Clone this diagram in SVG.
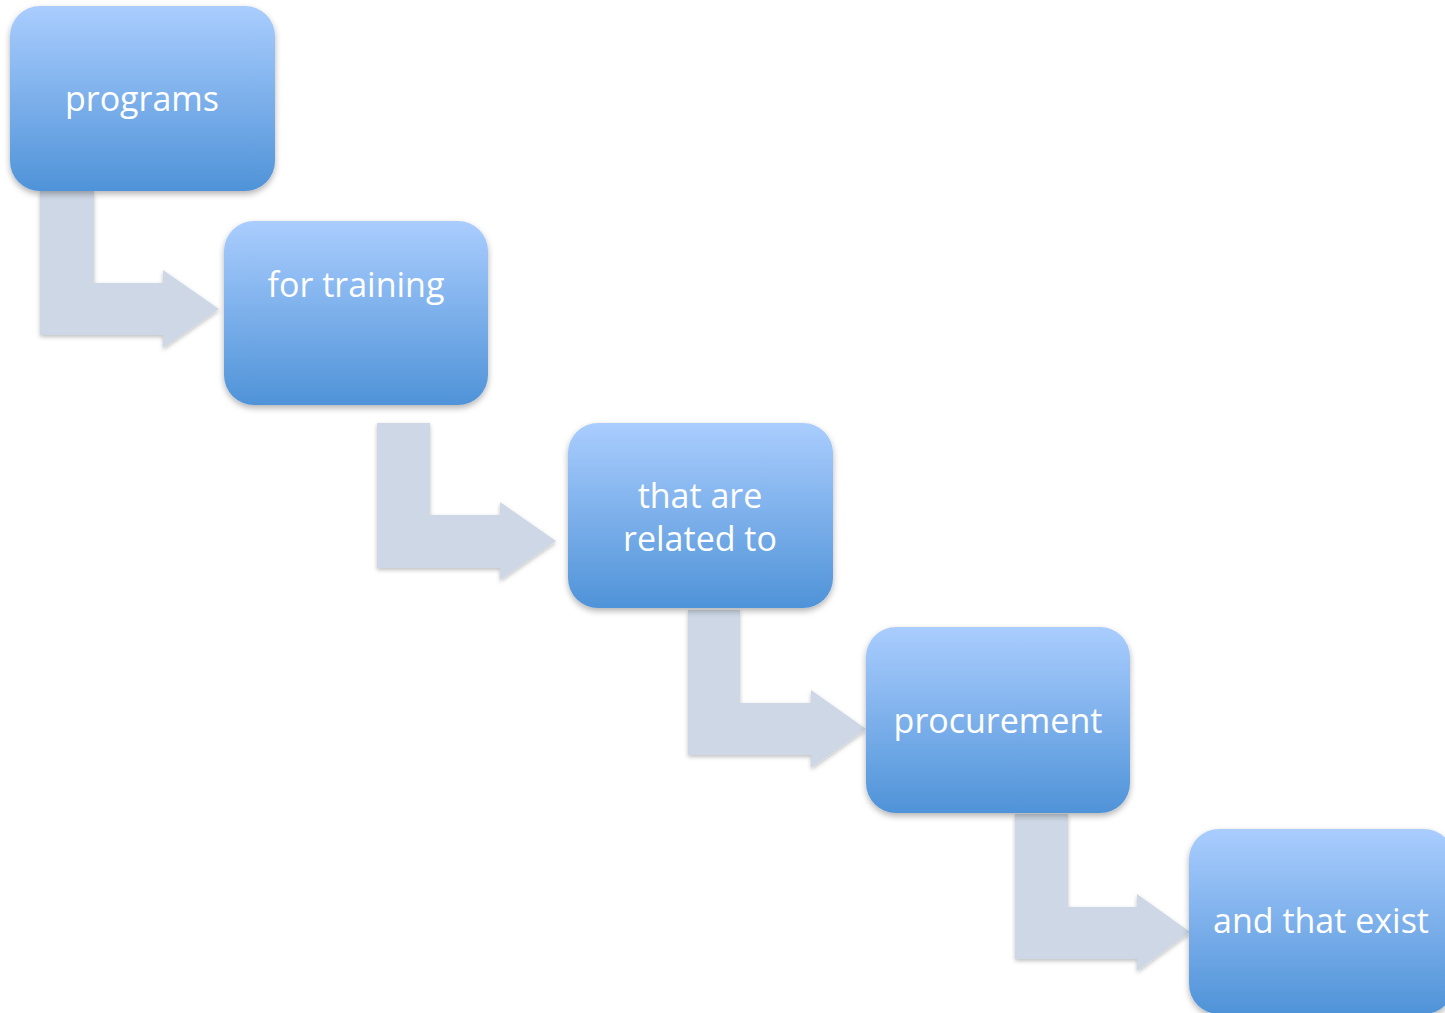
<svg xmlns="http://www.w3.org/2000/svg" width="1445" height="1013" viewBox="0 0 1445 1013">
<style>
.box{fill:url(#g);filter:url(#sh)}
.arr{fill:#cdd7e5;filter:url(#sh2)}
.t{font-family:"Open Sans","Liberation Sans",sans-serif;font-size:34px;fill:#ffffff;text-anchor:middle}
</style>
<defs>
<linearGradient id="g" x1="0" y1="0" x2="0" y2="1">
<stop offset="0" stop-color="#aacdfe"/>
<stop offset="1" stop-color="#4f93d8"/>
</linearGradient>
<filter id="sh" x="-10%" y="-10%" width="120%" height="130%">
<feDropShadow dx="0" dy="3" stdDeviation="3" flood-color="#000" flood-opacity="0.3"/>
</filter>
<filter id="sh2" x="-10%" y="-10%" width="120%" height="130%">
<feDropShadow dx="0" dy="2" stdDeviation="2" flood-color="#000" flood-opacity="0.25"/>
</filter>
</defs>
<rect width="1445" height="1013" fill="#ffffff"/>
<g id="connectors">
<polygon class="arr" points="40,191 94,191 94,283 163,283 163,270 219,309 163,348 163,335 40,335"/>
<polygon class="arr" points="377,423 430,423 430,515 500,515 500,502 556,541 500,580 500,568 377,568"/>
<polygon class="arr" points="688,610 740,610 740,703 811,703 811,690 866,729 811,768 811,755 688,755"/>
<polygon class="arr" points="1015,814 1068,814 1068,907 1137,907 1137,894 1190,932 1137,971 1137,959 1015,959"/>
</g>
<g id="node1">
<rect class="box" x="10" y="6" width="265" height="185" rx="30"/>
<text class="t" x="142" y="111">programs</text>
</g>
<g id="node2">
<rect class="box" x="224" y="221" width="264" height="184" rx="30"/>
<text class="t" x="356" y="297">for training</text>
</g>
<g id="node3">
<rect class="box" x="568" y="423" width="265" height="185" rx="30"/>
<text class="t" x="700" y="508">that are</text>
<text class="t" x="700" y="551">related to</text>
</g>
<g id="node4">
<rect class="box" x="866" y="627" width="264" height="186" rx="30"/>
<text class="t" x="998" y="733">procurement</text>
</g>
<g id="node5">
<rect class="box" x="1189" y="829" width="265" height="185" rx="30"/>
<text class="t" x="1321" y="933">and that exist</text>
</g>
</svg>
